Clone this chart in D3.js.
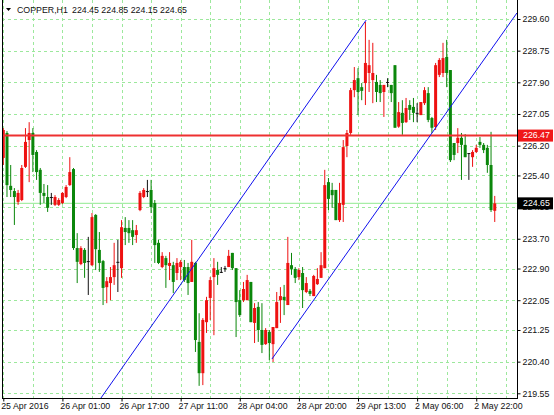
<!DOCTYPE html>
<html>
<head>
<meta charset="utf-8">
<script src="https://cdn.jsdelivr.net/npm/d3@7"></script>
<style>
body { margin: 0; background: #fff; }
svg { display: block; font-family: "Liberation Sans", Arial, sans-serif; }
</style>
</head>
<body>
<svg width="554" height="415"></svg>
<script>
// COPPER H1 bars (bar index 0 = first bar on the left)
const opens = [225.87,226.54,225.12,224.98,224.69,224.74,225.63,226.35,226.54,226.03,
  225.55,224.93,224.82,224.82,224.61,224.61,224.66,224.82,225.14,225.57,
  223.45,223.02,223.40,223.10,222.99,224.34,223.40,223.10,222.40,222.51,
  222.67,223.08,222.91,223.99,223.99,223.93,223.80,224.47,224.82,224.98,
  225.01,224.66,223.59,222.94,223.18,222.97,222.99,222.78,222.94,222.94,
  222.94,222.54,223.05,220.93,220.09,221.46,222.11,222.67,222.86,222.81,
  222.91,222.94,223.32,222.91,222.05,222.05,222.05,222.54,221.44,221.87,
  221.25,220.87,221.20,220.87,221.30,222.05,222.14,221.92,222.99,222.89,
  222.67,222.78,222.27,222.30,222.16,222.48,222.65,222.91,225.22,225.01,
  225.01,224.20,224.61,226.19,226.54,227.69,228.01,227.77,227.88,228.15,
  227.96,227.91,227.83,227.64,227.91,227.83,228.36,226.71,227.08,226.83,
  227.29,227.24,227.08,227.02,227.34,227.61,226.94,226.70,228.10,228.15,
  228.58,228.23,226.27,226.27,226.41,226.22,226.00,225.89,226.03,226.30,
  226.22,226.14,225.68,224.45]
const highs = [226.67,226.59,225.68,225.06,225.01,225.68,226.67,226.83,226.67,226.08,
  225.60,225.17,225.14,224.93,224.87,224.79,224.95,225.14,225.89,225.60,
  223.85,223.50,223.45,223.75,224.39,224.36,223.88,223.13,222.67,222.94,
  223.59,223.67,224.20,224.28,224.20,224.20,224.07,224.98,225.06,225.28,
  225.28,224.74,223.67,223.34,223.24,223.34,223.08,223.18,223.13,223.13,
  223.05,223.67,223.08,221.70,221.57,222.14,222.67,223.18,223.08,222.94,
  222.97,223.40,223.32,222.91,222.32,222.54,222.73,222.54,221.97,222.00,
  221.97,221.30,221.25,221.33,222.27,222.40,222.46,223.75,223.32,222.94,
  222.91,222.94,222.67,222.35,222.73,222.91,223.34,225.55,225.33,225.20,
  225.01,225.20,226.35,226.62,227.75,228.31,228.28,227.88,229.52,229.04,
  228.96,228.10,227.96,227.83,228.01,227.83,228.36,227.37,227.42,227.48,
  227.42,227.48,227.34,227.37,227.77,227.77,226.97,228.42,228.55,228.96,
  229.04,228.23,226.27,226.67,226.54,226.51,226.00,226.08,226.22,226.43,
  226.27,226.22,226.57,224.85]
const lows = [225.68,224.82,224.82,224.07,224.61,224.71,225.60,225.22,225.49,225.28,
  224.61,224.66,224.42,224.61,224.58,224.58,224.63,224.79,225.12,223.40,
  222.51,222.99,222.65,222.19,222.97,222.86,222.81,221.92,221.97,222.05,
  222.46,222.27,222.65,223.53,223.59,223.53,223.59,224.44,224.79,224.82,
  224.39,223.05,223.02,222.91,222.38,222.59,222.24,222.59,222.59,222.54,
  222.19,222.54,220.66,219.75,219.77,221.17,221.52,221.11,222.46,222.78,
  222.81,222.94,222.86,221.06,221.60,222.00,222.05,221.46,220.90,220.93,
  220.63,220.85,220.44,220.39,221.30,221.44,221.65,221.92,222.73,222.51,
  222.59,221.84,222.24,222.16,222.16,222.46,222.65,222.91,224.47,224.53,
  224.20,224.15,224.15,225.89,226.49,227.50,227.02,227.42,227.29,227.64,
  227.34,227.37,227.37,226.97,227.77,227.37,226.68,226.68,226.49,226.81,
  226.89,226.83,226.83,227.02,227.29,226.83,226.54,226.62,228.04,228.04,
  227.77,225.76,225.81,226.00,225.28,225.89,225.28,225.63,226.00,226.14,
  226.00,225.47,224.42,224.15]
const closes = [226.62,225.14,225.01,224.82,224.93,225.60,226.30,226.54,225.95,225.49,
  224.93,224.85,224.53,224.82,224.82,224.74,224.93,225.09,225.49,223.45,
  223.08,223.45,223.05,223.10,224.28,223.42,223.05,222.38,222.56,222.67,
  222.99,223.08,224.01,223.88,223.85,223.75,223.93,224.93,225.01,224.98,
  224.55,223.53,223.05,223.24,222.99,223.05,222.54,223.05,223.08,222.59,
  222.51,223.08,220.98,220.09,221.52,222.05,222.59,222.91,222.73,222.81,
  222.91,223.24,222.91,222.00,221.65,222.35,222.59,221.46,221.84,221.25,
  220.85,221.25,220.90,221.33,222.00,222.16,222.05,223.05,222.89,222.65,
  222.86,222.32,222.51,222.22,222.70,222.62,222.99,225.14,224.77,224.87,
  224.20,224.66,226.16,226.54,227.69,227.96,227.64,227.67,228.42,228.36,
  228.15,227.64,227.61,227.83,227.91,227.61,226.68,227.10,226.81,227.21,
  227.16,227.08,227.08,227.37,227.69,226.89,226.68,228.36,228.50,228.55,
  228.15,225.81,225.95,226.41,226.22,225.89,226.00,226.03,226.14,226.22,
  226.08,225.68,224.47,224.65]

// axis labels
const priceTicks = [229.60, 228.75, 227.90, 227.05, 226.20, 225.40, 224.55, 223.70, 222.90, 222.05, 221.25, 220.40, 219.55]
const timeTickBars = [0, 16, 32, 48, 64, 80, 96, 112, 128]
const timeTickLabels = ["25 Apr 2016", "26 Apr 01:00", "26 Apr 17:00", "27 Apr 11:00", "28 Apr 04:00",
  "28 Apr 20:00", "29 Apr 13:00", "2 May 06:00", "2 May 22:00"]
const gridBars = [0, 8, 16, 24, 32, 40, 48, 56, 64, 72, 80, 88, 96, 104, 112, 120, 128, 136]

// horizontal levels
const redLevel = 226.47
const bidLevel = 224.65

// trend lines as [bar, price] anchor pairs
const upperLine = [[26.4, 219.42], [98.2, 229.57]]
const lowerLine = [[72.7, 220.47], [139.0, 229.76]]

const title = "COPPER,H1"
const titleValues = "224.45 224.85 224.15 224.65"

let svg = d3.select("svg")
let plot = {left: 2, right: 517, top: 0, bottom: 398}

let x = d3.scaleLinear().domain([0, 133]).range([3.3, 3.3 + 133 * 3.695])
let y = d3.scaleLinear().domain([219.55, 229.60]).range([393.3, 19])

let gridColor = "#9ce89c"

svg.append("defs").append("clipPath").attr("id", "clip")
  .append("rect")
  .attr("x", plot.left).attr("y", plot.top)
  .attr("width", plot.right - plot.left).attr("height", plot.bottom - plot.top)

let g = svg.append("g").attr("clip-path", "url(#clip)")

// grid
g.selectAll(".hgrid")
  .data(priceTicks)
  .enter().append("line")
  .attr("x1", plot.left).attr("x2", plot.right)
  .attr("y1", d => Math.round(y(d)) + 0.5).attr("y2", d => Math.round(y(d)) + 0.5)
  .attr("stroke", gridColor).attr("stroke-dasharray", "3,3")

g.selectAll(".vgrid")
  .data(gridBars)
  .enter().append("line")
  .attr("x1", d => Math.round(x(d)) + 0.5).attr("x2", d => Math.round(x(d)) + 0.5)
  .attr("y1", plot.top).attr("y2", plot.bottom)
  .attr("stroke", gridColor).attr("stroke-dasharray", "3,3")

// bid line
g.append("line")
  .attr("x1", plot.left).attr("x2", plot.right)
  .attr("y1", y(bidLevel)).attr("y2", y(bidLevel))
  .attr("stroke", "#a6eea6").attr("stroke-width", 1.2)

// candles
let bars = d3.range(opens.length).map(i => ({i: i, o: opens[i], h: highs[i], l: lows[i], c: closes[i]}))
let colorOf = d => d.c > d.o ? "#ee1111" : d.c < d.o ? "#0b870b" : "#111"

let candle = g.selectAll(".candle")
  .data(bars)
  .enter().append("g")

candle.append("line")
  .attr("x1", d => x(d.i)).attr("x2", d => x(d.i))
  .attr("y1", d => y(d.h)).attr("y2", d => y(d.l))
  .attr("stroke", colorOf).attr("stroke-width", 1)

candle.append("rect")
  .attr("x", d => x(d.i) - 1.5)
  .attr("width", 3)
  .attr("y", d => y(Math.max(d.o, d.c)))
  .attr("height", d => Math.max(1, y(Math.min(d.o, d.c)) - y(Math.max(d.o, d.c))))
  .attr("fill", colorOf)

// red level
g.append("line")
  .attr("x1", plot.left).attr("x2", plot.right)
  .attr("y1", y(redLevel)).attr("y2", y(redLevel))
  .attr("stroke", "#ee3030").attr("stroke-width", 2)

// trend lines
let line = d3.line().x(d => x(d[0])).y(d => y(d[1]))
g.selectAll(".trend")
  .data([upperLine, lowerLine])
  .enter().append("path")
  .attr("d", line)
  .attr("fill", "none")
  .attr("stroke", "#1010ee")
  .attr("stroke-width", 1)

// frame
svg.append("line")
  .attr("x1", plot.left + 0.5).attr("x2", plot.left + 0.5)
  .attr("y1", plot.top).attr("y2", plot.bottom)
  .attr("stroke", "#000")
svg.append("line")
  .attr("x1", plot.right + 0.5).attr("x2", plot.right + 0.5)
  .attr("y1", plot.top).attr("y2", plot.bottom + 0.5)
  .attr("stroke", "#000")
svg.append("line")
  .attr("x1", plot.left).attr("x2", plot.right + 1)
  .attr("y1", plot.bottom + 0.5).attr("y2", plot.bottom + 0.5)
  .attr("stroke", "#000")

// price axis
let yAxis = svg.append("g")
  .attr("transform", "translate(" + (plot.right + 0.5) + ",0)")
  .call(d3.axisRight(y).tickValues(priceTicks).tickFormat(d3.format(".2f")).tickSize(3).tickPadding(2))
yAxis.select(".domain").remove()
yAxis.selectAll("text").attr("font-size", "8.8px").attr("fill", "#111").attr("font-family", "Liberation Sans, Arial, sans-serif")
yAxis.selectAll("line").attr("stroke", "#000")

// time axis
let xAxis = svg.append("g")
  .attr("transform", "translate(0," + (plot.bottom + 0.5) + ")")
  .call(d3.axisBottom(x).tickValues(timeTickBars).tickFormat((d, i) => timeTickLabels[i]).tickSize(3).tickPadding(1))
xAxis.select(".domain").remove()
xAxis.selectAll("text").attr("font-size", "8.8px").attr("fill", "#111")
  .attr("text-anchor", "start").attr("dx", "-0.3em").attr("font-family", "Liberation Sans, Arial, sans-serif")
xAxis.selectAll("line").attr("stroke", "#000")

// price labels for the two levels (the bid box covers the 224.55 tick, as in the terminal)
let levels = [{v: redLevel, fill: "#f01818"}, {v: bidLevel, fill: "#000"}]
let lab = svg.selectAll(".lvl")
  .data(levels)
  .enter().append("g")
  .attr("transform", d => "translate(" + (plot.right + 1) + "," + y(d.v) + ")")
lab.append("rect")
  .attr("x", 0).attr("y", -6).attr("width", 35).attr("height", 12)
  .attr("fill", d => d.fill)
lab.append("text")
  .attr("x", 5).attr("dy", "0.32em")
  .attr("font-size", "8.8px").attr("fill", "#fff")
  .text(d => d3.format(".2f")(d.v))

// title
svg.append("path")
  .attr("d", "M6,8L11,8L8.5,11Z")
  .attr("fill", "#000")
let t = svg.append("text")
  .attr("y", 12.5).attr("font-size", "8.8px").attr("fill", "#111")
t.append("tspan").attr("x", 17).text(title)
t.append("tspan").attr("x", 72).text(titleValues)
</script>
</body>
</html>
